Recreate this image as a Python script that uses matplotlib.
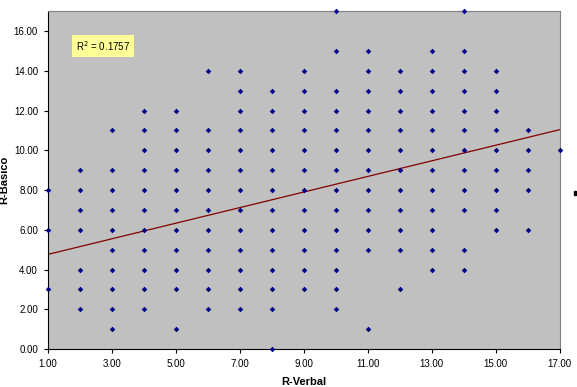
import matplotlib
matplotlib.use("Agg")
import matplotlib.pyplot as plt
from matplotlib.patches import Rectangle

plt.rcParams['font.family'] = ['Liberation Sans', 'DejaVu Sans']

# R-Basico values observed at each R-Verbal score
columns = {
    1: [8, 6, 3],
    2: [9, 8, 7, 6, 4, 3, 2],
    3: [11, 9, 8, 7, 6, 5, 4, 3, 2, 1],
    4: [12, 11, 10, 9, 8, 7, 6, 5, 4, 3, 2],
    5: [12, 11, 10, 9, 8, 7, 6, 5, 4, 3, 1],
    6: [14, 11, 10, 9, 8, 7, 6, 5, 4, 3, 2],
    7: [14, 13, 12, 11, 10, 9, 8, 7, 6, 5, 4, 3, 2],
    8: [13, 12, 11, 10, 9, 8, 7, 6, 5, 4, 3, 2, 0],
    9: [14, 13, 12, 11, 10, 9, 8, 7, 6, 5, 4, 3],
    10: [17, 15, 13, 12, 11, 10, 9, 8, 7, 6, 5, 4, 3, 2],
    11: [15, 14, 13, 12, 11, 10, 9, 8, 7, 6, 5, 1],
    12: [14, 13, 12, 11, 10, 9, 8, 7, 6, 5, 3],
    13: [15, 14, 13, 12, 11, 10, 9, 8, 7, 6, 5, 4],
    14: [17, 15, 14, 13, 12, 11, 10, 9, 8, 7, 5, 4],
    15: [14, 13, 12, 11, 10, 9, 8, 7, 6],
    16: [11, 10, 9, 8, 6],
    17: [10],
}
verbal = [k for k, vals in columns.items() for _ in vals]
basico = [v for vals in columns.values() for v in vals]

trend_x = [1, 17]
trend_y = [4.76, 11.04]
r2_text = "R$^2$ = 0.1757"

xticks = [1, 3, 5, 7, 9, 11, 13, 15, 17]
yticks = [0, 2, 4, 6, 8, 10, 12, 14, 16]

fig = plt.figure(figsize=(5.77, 3.87), dpi=100)
ax = fig.add_axes([0.0827, 0.0982, 0.887, 0.8726])
ax.set_facecolor('#c0c0c0')

ax.scatter(verbal, basico, marker='D', s=8, color='#000080', zorder=3,
           clip_on=False, linewidths=0)
ax.plot(trend_x, trend_y, color='#800000', lw=0.9, zorder=2)

ax.set_xlim(1, 17)
ax.set_ylim(0, 17)
ax.set_xticks(xticks)
ax.set_xticklabels([f"{t:.2f}" for t in xticks])
ax.set_yticks(yticks)
ax.set_yticklabels([f"{t:.2f}" for t in yticks])
ax.tick_params(labelsize=7, length=3, width=0.8, color='black', pad=4)

for s in ['top', 'right']:
    ax.spines[s].set_color('#808080')
for s in ['left', 'bottom']:
    ax.spines[s].set_color('black')

ax.set_xlabel('R-Verbal', fontsize=8, fontweight='bold', labelpad=6)
ax.set_ylabel('R-Basico', fontsize=8, fontweight='bold')
ax.yaxis.set_label_coords(-0.076, 0.5)

fig.text(0.1785, 0.881, r2_text, fontsize=7, ha='center', va='center',
         bbox=dict(boxstyle='square,pad=0.45', fc='#ffff99', ec='none'))

fig.add_artist(Rectangle((0.9945, 0.495), 0.004, 0.012,
                         transform=fig.transFigure, color='black'))

fig.savefig('out.png', dpi=100)
